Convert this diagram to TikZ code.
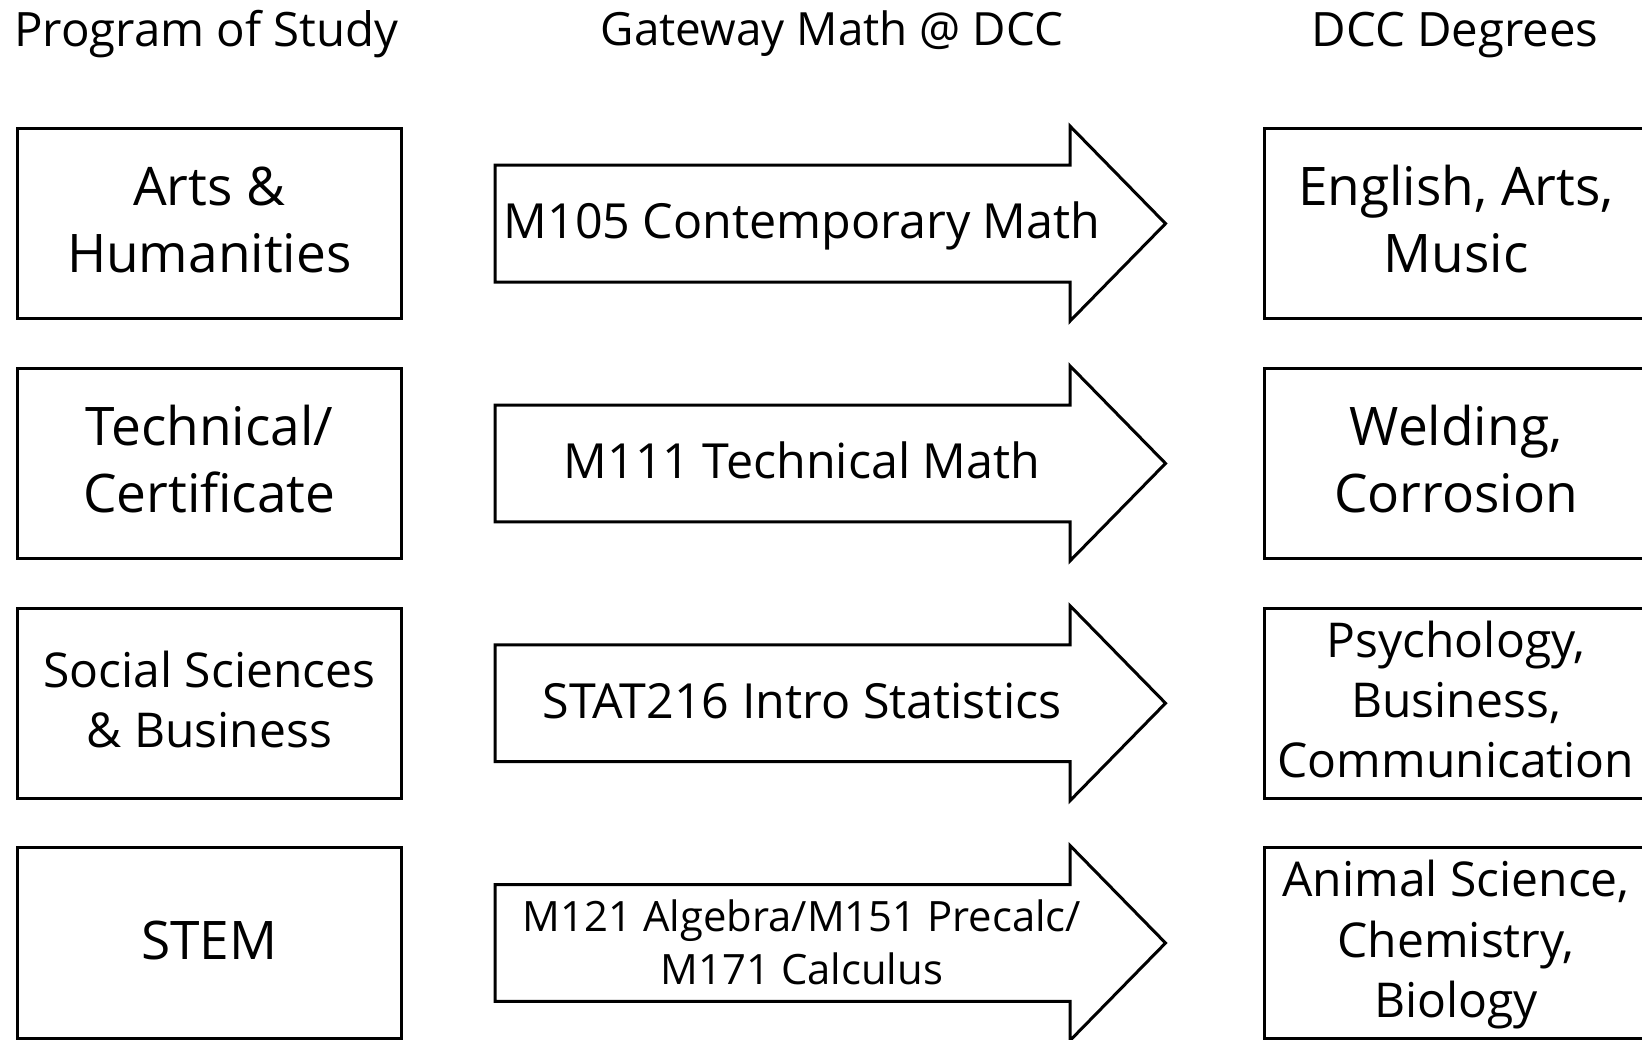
\documentclass[tikz,border=0pt]{standalone}
\usepackage{fontspec}
\setmainfont{Open Sans}
\usetikzlibrary{calc, positioning}
\tikzset{
	boxline/.style={draw, line width=1.5pt},
	heading/.style={font=\fontsize{23.7}{28}\selectfont, text height=16.9pt, text depth=0pt},
	bigtext/.style={align=center, font=\fontsize{26.6}{33.3}\selectfont},
	smalltext/.style={align=center, font=\fontsize{24}{30.1}\selectfont},
	gatetext/.style={align=center, font=\fontsize{24.2}{30}\selectfont, text height=17.3pt, text depth=0pt},
	gatesmall/.style={align=center, font=\fontsize{20.9}{26.2}\selectfont},
	studybox/.style={boxline, minimum width=191.8pt, minimum height=95.2pt, inner sep=0pt},
}
\newcommand{\gatearrow}[1]{%
	\draw [boxline] ($(#1)+(-307,-58.4)$) -- ($(#1)+(268,-58.4)$) -- ($(#1)+(268,-97.5)$)
		-- ($(#1)+(363.5,0)$) -- ($(#1)+(268,97.5)$) -- ($(#1)+(268,58.4)$)
		-- ($(#1)+(-307,58.4)$) -- cycle;}

\begin{document}
\begin{tikzpicture}[x=0.5pt,y=-0.5pt]
	\useasboundingbox (0,0) rectangle (1642,1039);
	\node [heading] (head1) at (206.5,29.4) {Program of Study};
	\node [heading, font=\fontsize{22.9}{28}\selectfont, text height=16.35pt] (head2) at (832,29.4) {Gateway Math @ DCC};
	\node [heading] (head3) at (1455,29.4) {DCC Degrees};

	\node [studybox] (prog1) at (209.3,223.6) {};
	\node [studybox] (prog2) at (209.3,463.4) {};
	\node [studybox] (prog3) at (209.3,703.2) {};
	\node [studybox] (prog4) at (209.3,943) {};
	\node [bigtext] (arts) at ($(prog1)+(0,2.2)$) {Arts \&\strut\\Humanities\strut};
	\node [bigtext] (tech) at ($(prog2)+(0,2.2)$) {Technical/\strut\\Certificate\strut};
	\node [smalltext] (social) at ($(prog3)+(0,2.1)$) {Social Sciences\strut\\\& Business\strut};
	\node [bigtext, text height=19pt, text depth=0pt] (stem) at ($(prog4)+(0,-2.7)$) {STEM};

	\coordinate (gate1) at (802,223.6);
	\coordinate (gate2) at (802,463.4);
	\coordinate (gate3) at (802,703.2);
	\coordinate (gate4) at (802,943);
	\gatearrow{gate1}
	\gatearrow{gate2}
	\gatearrow{gate3}
	\gatearrow{gate4}
	\node [gatetext] (math1) at ($(gate1)+(0,-2)$) {M105 Contemporary Math};
	\node [gatetext] (math2) at ($(gate2)+(0,-2)$) {M111 Technical Math};
	\node [gatetext] (math3) at ($(gate3)+(0,-2)$) {STAT216 Intro Statistics};
	\node [gatesmall] (math4) at ($(gate4)+(0,4.5)$) {M121 Algebra/M151 Precalc/\strut\\M171 Calculus\strut};

	\node [studybox] (deg1) at (1456,223.6) {};
	\node [studybox] (deg2) at (1456,463.4) {};
	\node [studybox] (deg3) at (1456,703.2) {};
	\node [studybox] (deg4) at (1456,943) {};
	\node [bigtext] (english) at ($(deg1)+(0,2.2)$) {English, Arts,\strut\\Music\strut};
	\node [bigtext] (welding) at ($(deg2)+(0,2.2)$) {Welding,\strut\\Corrosion\strut};
	\node [smalltext] (psych) at ($(deg3)+(0,2.1)$) {Psychology,\strut\\Business,\\Communication\strut};
	\node [smalltext] (animal) at ($(deg4)+(0,2.1)$) {Animal Science,\strut\\Chemistry,\\Biology\strut};
\end{tikzpicture}
\end{document}
